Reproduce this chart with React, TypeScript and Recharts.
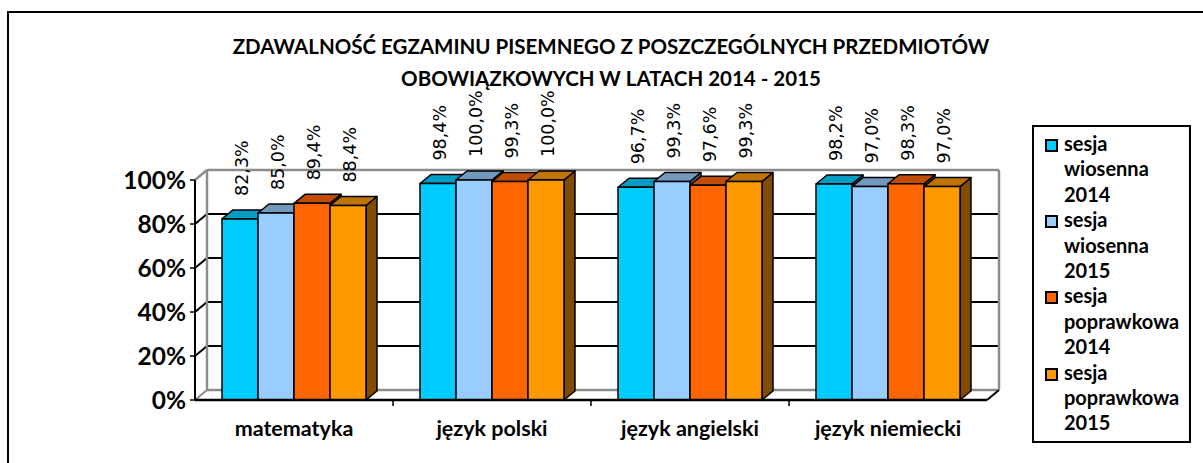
import React from "react";
import { BarChart, Bar, XAxis, YAxis, CartesianGrid, Legend, LabelList } from "recharts";

const subjects = ["matematyka", "język polski", "język angielski", "język niemiecki"];
const wiosenna2014 = [82.3, 98.4, 96.7, 98.2];
const wiosenna2015 = [85.0, 100.0, 99.3, 97.0];
const poprawkowa2014 = [89.4, 99.3, 97.6, 98.3];
const poprawkowa2015 = [88.4, 100.0, 99.3, 97.0];
const yTicks = [0, 20, 40, 60, 80, 100];
const titleLines = [
  "ZDAWALNOŚĆ EGZAMINU PISEMNEGO Z POSZCZEGÓLNYCH PRZEDMIOTÓW",
  "OBOWIĄZKOWYCH W LATACH 2014 - 2015",
];

const series = [
  { key: "w14", name: "sesja wiosenna 2014", values: wiosenna2014, front: "#00CCFF", top: "#009CC4", side: "#006680" },
  { key: "w15", name: "sesja wiosenna 2015", values: wiosenna2015, front: "#99CCFF", top: "#7399BF", side: "#4D6680" },
  { key: "p14", name: "sesja poprawkowa 2014", values: poprawkowa2014, front: "#FF6600", top: "#BF4C00", side: "#803300" },
  { key: "p15", name: "sesja poprawkowa 2015", values: poprawkowa2015, front: "#FF9900", top: "#BF7300", side: "#7F4C00" },
];

const data = subjects.map((s, i) => {
  const row: Record<string, string | number> = { subject: s };
  series.forEach((sr) => (row[sr.key] = sr.values[i]));
  return row;
});

const W = 1203;
const H = 463;
const MARGIN = { top: 180, right: 216, bottom: 0, left: 0 };
const Y_W = 195;
const X_H = 63;
const PLOT_W = W - MARGIN.left - MARGIN.right - Y_W;
const BAND = PLOT_W / subjects.length;
// depth of the 3D wall and of the bars
const WALL_DX = 12;
const WALL_DY = 10;
const BAR_DX = 11;
const BAR_DY = 9;

const CALIBRI = "Lato, 'Open Sans', sans-serif";

function make3DBar(top: string, side: string) {
  return (props: any) => {
    const { x, y, width, height, fill } = props;
    if (width == null || height == null) return <g />;
    return (
      <g stroke="#000" strokeWidth={1.5} strokeLinejoin="round">
        <polygon
          points={`${x + width},${y} ${x + width + BAR_DX},${y - BAR_DY} ${x + width + BAR_DX},${y + height - BAR_DY} ${x + width},${y + height}`}
          fill={side}
        />
        <polygon
          points={`${x},${y} ${x + BAR_DX},${y - BAR_DY} ${x + width + BAR_DX},${y - BAR_DY} ${x + width},${y}`}
          fill={top}
        />
        <rect x={x} y={y} width={width} height={height} fill={fill} />
      </g>
    );
  };
}

function renderValueLabel(props: any) {
  const { x, y, width, value } = props;
  const txt = `${Number(value).toFixed(1).replace(".", ",")}%`;
  const cx = x + width / 2 + 8;
  const cy = y - 23;
  return (
    <text
      x={0}
      y={0}
      transform={`translate(${cx}, ${cy}) rotate(-90)`}
      fontFamily="'DejaVu Sans', sans-serif"
      fontSize={17.5}
      fill="#000"
      textAnchor="start"
    >
      {txt}
    </text>
  );
}

function renderGridLine(p: any) {
  const { x1, x2, y1 } = p;
  const gy = p.y ?? MARGIN.top;
  const gh = p.height ?? H - MARGIN.top - MARGIN.bottom - X_H;
  const isTop = Math.abs(y1 - gy) < 0.5;
  const isBottom = Math.abs(y1 - (gy + gh)) < 0.5;
  const gray = "#8C8C8C";
  if (isTop) {
    return (
      <g key={p.key}>
        <line x1={x1} y1={y1} x2={x1 + WALL_DX} y2={y1 - WALL_DY} stroke={gray} strokeWidth={2.5} />
        <line x1={x1 + WALL_DX} y1={y1 - WALL_DY} x2={x2 + WALL_DX} y2={y1 - WALL_DY} stroke={gray} strokeWidth={2.5} />
        <line x1={x1 + WALL_DX} y1={y1 - WALL_DY} x2={x1 + WALL_DX} y2={gy + gh - WALL_DY} stroke={gray} strokeWidth={2.5} />
        <line x1={x2 + WALL_DX} y1={y1 - WALL_DY} x2={x2 + WALL_DX} y2={gy + gh - WALL_DY} stroke={gray} strokeWidth={2.5} />
      </g>
    );
  }
  if (isBottom) {
    return (
      <g key={p.key}>
        <line x1={x1 + WALL_DX} y1={y1 - WALL_DY} x2={x2 + WALL_DX} y2={y1 - WALL_DY} stroke={gray} strokeWidth={2.5} />
        <line x1={x1} y1={y1} x2={x1 + WALL_DX} y2={y1 - WALL_DY} stroke={gray} strokeWidth={2} />
        <line x1={x2} y1={y1} x2={x2 + WALL_DX} y2={y1 - WALL_DY} stroke="#000" strokeWidth={2} />
      </g>
    );
  }
  return (
    <g key={p.key}>
      <line x1={x1} y1={y1} x2={x1 + WALL_DX} y2={y1 - WALL_DY} stroke="#000" strokeWidth={2} />
      <line x1={x1 + WALL_DX} y1={y1 - WALL_DY} x2={x2 + WALL_DX} y2={y1 - WALL_DY} stroke="#000" strokeWidth={2} />
    </g>
  );
}

function CategoryTick(props: any) {
  const { x, y, payload, index } = props;
  return (
    <g>
      <text x={x} y={y + 36} textAnchor="middle" fontFamily={CALIBRI} fontWeight={700} fontSize={21.5} fill="#000">
        {payload.value}
      </text>
      {index < subjects.length - 1 && (
        <line x1={x + BAND / 2} y1={y} x2={x + BAND / 2} y2={y + 6} stroke="#000" strokeWidth={1.5} />
      )}
    </g>
  );
}

function LegendBox() {
  return (
    <div
      style={{
        border: "2px solid #000",
        width: 159,
        height: 318,
        boxSizing: "border-box",
        padding: "4px 0 0 11px",
        background: "#fff",
      }}
    >
      {series.map((s) => (
        <div key={s.key} style={{ display: "flex", alignItems: "flex-start" }}>
          <span
            style={{
              width: 13,
              height: 13,
              border: "2px solid #000",
              background: s.front,
              marginTop: 8,
              marginRight: 6,
              boxSizing: "border-box",
              flex: "none",
            }}
          />
          <div style={{ fontFamily: CALIBRI, fontWeight: 700, fontSize: 20, lineHeight: "25.4px", color: "#000" }}>
            {s.name.split(" ").map((w, i) => (
              <div key={i}>{w}</div>
            ))}
          </div>
        </div>
      ))}
    </div>
  );
}

export default function App() {
  return (
    <div style={{ position: "absolute", left: 0, top: 0, width: W, height: H, overflow: "hidden", background: "#fff" }}>
      <div
        style={{
          position: "absolute",
          left: 7,
          top: 11,
          width: W + 50,
          height: H + 50,
          border: "2px solid #000",
          boxSizing: "border-box",
        }}
      />
      <div
        style={{
          position: "absolute",
          left: 0,
          top: 30,
          width: 1222,
          textAlign: "center",
          fontFamily: CALIBRI,
          fontWeight: 700,
          fontSize: 20.5,
          lineHeight: "32px",
          color: "#000",
        }}
      >
        {titleLines.map((l) => (
          <div key={l}>{l}</div>
        ))}
      </div>
      <div style={{ position: "absolute", left: 0, top: 0 }}>
        <BarChart width={W} height={H} data={data} margin={MARGIN} barGap={0} barSize={36}>
          <CartesianGrid vertical={false} horizontal={renderGridLine} />
          <XAxis
            dataKey="subject"
            height={X_H}
            tickSize={0}
            tickMargin={0}
            tickLine={false}
            axisLine={{ stroke: "#000", strokeWidth: 2.5 }}
            tick={<CategoryTick />}
            interval={0}
          />
          <YAxis
            width={Y_W}
            domain={[0, 100]}
            ticks={yTicks}
            tickFormatter={(v: number) => `${v}%`}
            tickSize={5}
            tickMargin={4}
            tickLine={{ stroke: "#000", strokeWidth: 1.5 }}
            axisLine={{ stroke: "#000", strokeWidth: 2 }}
            tick={{ fontFamily: CALIBRI, fontWeight: 700, fontSize: 24.5, fill: "#000" }}
          />
          <Legend
            layout="horizontal"
            verticalAlign="middle"
            align="center"
            wrapperStyle={{ left: 1032, top: 125, width: 159, height: 318 }}
            content={<LegendBox />}
          />
          {series.map((s) => (
            <Bar
              key={s.key}
              dataKey={s.key}
              name={s.name}
              fill={s.front}
              isAnimationActive={false}
              shape={make3DBar(s.top, s.side)}
            >
              <LabelList dataKey={s.key} content={renderValueLabel} />
            </Bar>
          ))}
        </BarChart>
      </div>
    </div>
  );
}
